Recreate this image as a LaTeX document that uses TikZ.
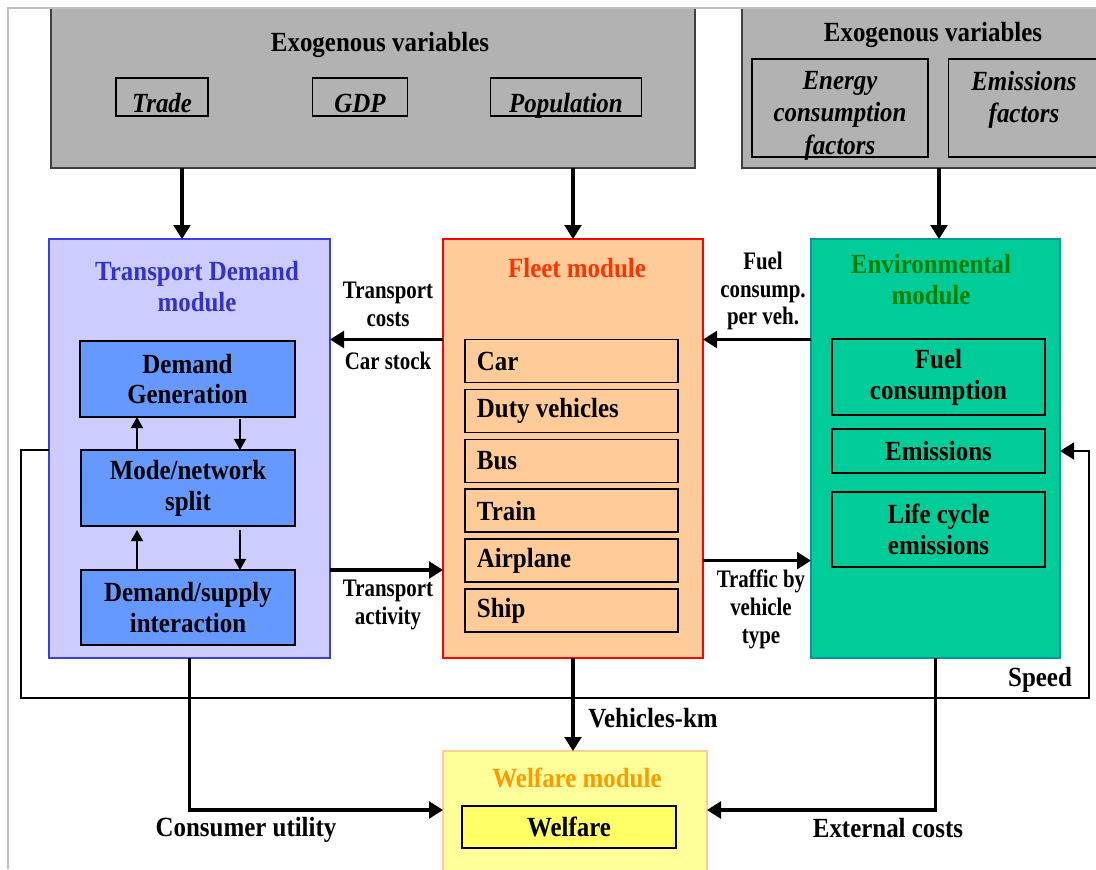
\documentclass[tikz,border=0pt]{standalone}
\usepackage{fontspec}
\setmainfont{Liberation Serif}[FakeStretch=0.9]
\newfontfamily\lblfont{Liberation Serif}[FakeStretch=0.83]
\usepackage{tikz}
\usetikzlibrary{arrows.meta}

\newcommand{\pix}{0.025cm}
\definecolor{exogray}{HTML}{B2B2B2}
\definecolor{tdfill}{HTML}{CCCCFF}
\definecolor{tdline}{HTML}{3D3DE8}
\definecolor{tdtext}{HTML}{3333CC}
\definecolor{tdsub}{HTML}{6699FF}
\definecolor{fleetfill}{HTML}{FFCC99}
\definecolor{fleettext}{HTML}{FF3300}
\definecolor{envfill}{HTML}{00CC99}
\definecolor{envline}{HTML}{009999}
\definecolor{envtext}{HTML}{008000}
\definecolor{welffill}{HTML}{FFFF99}
\definecolor{welfline}{HTML}{FFCC99}
\definecolor{welftext}{HTML}{FF9900}
\definecolor{welfsub}{HTML}{FFFF66}
\definecolor{framegray}{HTML}{C0C0C0}

\tikzset{
  txt/.style={font=\fontsize{19.7}{22}\selectfont\bfseries, align=center, inner sep=0pt},
  ital/.style={font=\fontsize{19.7}{23}\selectfont\bfseries\itshape},
  lbl/.style={font=\lblfont\fontsize{17.9}{19.8}\selectfont\bfseries, align=center, inner sep=0pt},
  dims/.style 2 args={minimum width=#1*\pix, minimum height=#2*\pix},
  area/.style={draw, line width=0.9pt, inner sep=0pt, outer sep=0pt},
  sub/.style={area, txt, draw=black, line width=1.1pt},
  low/.style={text height=0.75cm, text depth=0pt},
  flow/.style={line width=2.2pt, -{Triangle[length=0.35cm,width=0.42cm]}},
  smallflow/.style={line width=1.4pt, -{Triangle[length=0.28cm,width=0.3cm]}}
}

\begin{document}
\begin{tikzpicture}[x=\pix,y=-\pix]
  \useasboundingbox (0,0) rectangle (1096,869);

  % exogenous variables
  \node[area, fill=exogray, draw=black!75, dims={644}{160}] (exoA) at (373,88) {};
  \node[txt] (exoAtitle) at (380,45) {Exogenous variables};
  \node[sub, ital, low, fill=exogray, dims={92}{38}] (trade) at (162,97) {Trade};
  \node[sub, ital, low, fill=exogray, dims={95}{38}] (gdp) at (360,97) {GDP};
  \node[sub, ital, low, fill=exogray, dims={151}{38}] (pop) at (566,97) {Population};

  \node[area, fill=exogray, draw=black!75, dims={358}{160}] (exoB) at (921,88) {};
  \node[txt] (exoBtitle) at (933,35) {Exogenous variables};
  \node[sub, ital, fill=exogray, dims={176}{98}, text height=2.3cm, text depth=0pt] (energy) at (840,108) {Energy\\consumption\\factors};
  \node[sub, ital, fill=exogray, dims={151}{98}, text depth=0.55cm] (emfac) at (1024,108) {Emissions\\factors};

  % transport demand
  \node[area, fill=tdfill, draw=tdline, dims={281}{419}] (TD) at (189.5,448.5) {};
  \node[txt, text=tdtext] (TDtitle) at (197,287) {Transport Demand\\module};
  \node[sub, fill=tdsub, dims={215}{76}] (dgen) at (187.5,379) {Demand\\Generation};
  \node[sub, fill=tdsub, dims={214}{76}] (mode) at (188,488) {Mode/network\\split};
  \node[sub, fill=tdsub, dims={214}{75}] (dsup) at (188,607.5) {Demand/supply\\interaction};

  % fleet
  \node[area, fill=fleetfill, draw=red, dims={260}{419}] (Fleet) at (573,448.5) {};
  \node[txt, text=fleettext] (Fleettitle) at (577,268.5) {Fleet module};
  \foreach \name/\veh [count=\i from 0] in {car/Car, duty/Duty vehicles, bus/Bus, train/Train, air/Airplane, ship/Ship}
    \node[sub, fill=fleetfill, dims={213}{43}, text width=4.725cm, align=flush left, inner xsep=0.3cm] (\name) at (571.5,361+49.9*\i) {\veh};

  % environment
  \node[area, fill=envfill, draw=envline, dims={249}{419}] (Env) at (935.5,448.5) {};
  \node[txt, text=envtext] (Envtitle) at (931,280) {Environmental\\module};
  \node[sub, fill=envfill, dims={213}{76}] (fuel) at (938.5,377) {Fuel\\consumption};
  \node[sub, fill=envfill, dims={213}{44}] (emis) at (938.5,451) {Emissions};
  \node[sub, fill=envfill, dims={213}{75}] (lce) at (938.5,529.5) {Life cycle\\emissions};

  % welfare
  \node[area, fill=welffill, draw=welfline, dims={264}{129}] (Welf) at (575,815.5) {};
  \node[txt, text=welftext] (Welftitle) at (577,778) {Welfare module};
  \node[sub, fill=welfsub, dims={214}{42}] (welfare) at (569,827) {Welfare};

  \draw[framegray, line width=1.5pt] (8,869) -- (8,8) -- (1096,8); % page frame

  \coordinate (xa) at (182,0);
  \coordinate (xe) at (939,0);
  \coordinate (xu) at (137,0);
  \coordinate (xd) at (240,0);
  \coordinate (loopL) at (21,698);
  \coordinate (loopR) at (1089,698);
  \coordinate (yw) at (0,810);

  \draw[flow] (exoA.south -| xa) -- (TD.north -| xa);
  \draw[flow] (exoA.south -| Fleet.north) -- (Fleet.north);
  \draw[flow] (exoB.south -| xe) -- (Env.north -| xe);

  \draw[flow] (Fleet.west |- car.north) -- (TD.east |- car.north);
  \draw[flow] (Env.west |- car.north) -- (Fleet.east |- car.north);
  \draw[flow] (TD.east |- dsup.north) -- (Fleet.west |- dsup.north);
  \draw[flow] (Fleet.east |- air) -- (Env.west |- air);

  \draw[smallflow] (mode.north -| xu) -- (dgen.south -| xu);
  \draw[smallflow, shorten <=0.05cm] (dgen.south -| xd) -- (mode.north -| xd);
  \draw[smallflow, shorten >=0.1cm] (dsup.north -| xu) -- (mode.south -| xu);
  \draw[smallflow, shorten <=0.1cm] (mode.south -| xd) -- (dsup.north -| xd);

  \draw[flow, line width=1.8pt] (TD.west |- mode.north) -| (loopL) -- (loopR) |- (Env.east |- emis); % speed loop
  \draw[flow] (TD.south) |- (Welf.west |- yw);
  \draw[flow] (Env.south) |- (Welf.east |- yw);
  \draw[flow] (Fleet.south) -- (Fleet.south |- Welf.north);

  \node[lbl] (costs) at (388,304) {Transport\\costs};
  \node[lbl] (carstock) at (388,361) {Car stock};
  \node[lbl] (activity) at (388,605) {Transport\\activity};
  \node[lbl] (fuelveh) at (763,291) {Fuel\\consump.\\per veh.};
  \node[lbl] (traffic) at (761,609) {Traffic by\\vehicle\\type};
  \node[txt] (speed) at (1040,680) {Speed};
  \node[txt] (vkm) at (653,718) {Vehicles-km};
  \node[txt] (utility) at (246,830) {Consumer utility};
  \node[txt] (extcost) at (888,828) {External costs};
\end{tikzpicture}
\end{document}
